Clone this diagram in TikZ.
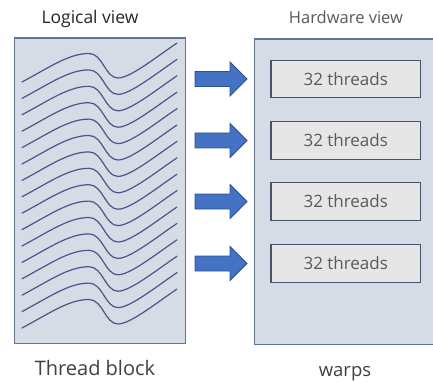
\documentclass[tikz,border=0pt]{standalone}
\usepackage{fontspec}
\setmainfont{Open Sans}
\definecolor{boxfill}{RGB}{214,220,229}
\definecolor{boxline}{RGB}{100,116,144}
\definecolor{curvecol}{RGB}{72,86,138}
\definecolor{warpfill}{RGB}{231,230,230}
\definecolor{warpline}{RGB}{68,84,106}
\definecolor{warptext}{RGB}{89,89,95}
\definecolor{arrowfill}{RGB}{68,114,196}
\definecolor{arrowline}{RGB}{47,82,143}
\tikzset{
  bigbox/.style={draw=boxline, fill=boxfill, line width=1.2pt, inner sep=0pt, anchor=north west},
  warpbox/.style={draw=warpline, fill=warpfill, line width=1.3pt, minimum width=149.5pt, minimum height=37.5pt, inner sep=0pt, text=warptext, font=\fontsize{17}{20}\selectfont},
  warparrow/.style={draw=arrowline, fill=arrowfill, line width=0.8pt, line join=miter},
  thread/.style={draw=curvecol, line width=1.2pt, line cap=round},
  heading/.style={anchor=base, inner sep=0pt}
}
\begin{document}
\begin{tikzpicture}[x=1pt,y=-1pt]
\useasboundingbox (0,0) rectangle (433,382);
\clip (0,0) rectangle (433,382);
% boxes
\node[bigbox, minimum width=171.5pt, minimum height=305pt] (lb) at (13.5,37.5) {};
\node[bigbox, minimum width=200pt, minimum height=305.5pt] (rb) at (254,38.5) {};
% thread curves
\foreach \i in {0,...,15}{
  \draw[thread] ([shift={(22,{82+16.4*\i})}]0,0)
     .. controls ++(28,-15) and ++(-20,0) .. ++(67,-28.5)
     .. controls ++(14,0) and ++(-13,0) .. ++(29,24.5)
     .. controls ++(12,0) and ++(-22,15) .. ++(59,-35);
}
% warp boxes
\node[warpbox] (w1) at (345.75,79) {32 threads};
\node[warpbox] (w2) at (345.75,140.5) {32 threads};
\node[warpbox] (w3) at (345.75,201.5) {32 threads};
\node[warpbox] (w4) at (345.75,263.5) {32 threads};
% arrows
\coordinate (a1) at (221,79);
\coordinate (a2) at (221,140.5);
\coordinate (a3) at (221,201.5);
\coordinate (a4) at (221,263.5);
\foreach \a in {a1,a2,a3,a4}{
  \draw[warparrow] ([shift={(-26,-7.5)}]\a) -- ([shift={(9,-7.5)}]\a) -- ([shift={(9,-17)}]\a)
     -- ([shift={(26,0)}]\a) -- ([shift={(9,17)}]\a) -- ([shift={(9,7.5)}]\a)
     -- ([shift={(-26,7.5)}]\a) -- cycle;
}
% labels
\node[heading, text={rgb,255:red,38;green,38;blue,38}, font=\fontsize{17.5}{20}\selectfont] (lv) at (90,23.5) {Logical view};
\node[heading, text={rgb,255:red,89;green,89;blue,89}, font=\fontsize{16.5}{20}\selectfont] (hv) at (346,23.5) {Hardware view};
\node[heading, text={rgb,255:red,64;green,64;blue,64}, font=\fontsize{20}{24}\selectfont] (tb) at (95,375) {Thread block};
\node[heading, text={rgb,255:red,64;green,64;blue,64}, font=\fontsize{18.5}{22}\selectfont] (wp) at (345,376) {warps};
\end{tikzpicture}
\end{document}
